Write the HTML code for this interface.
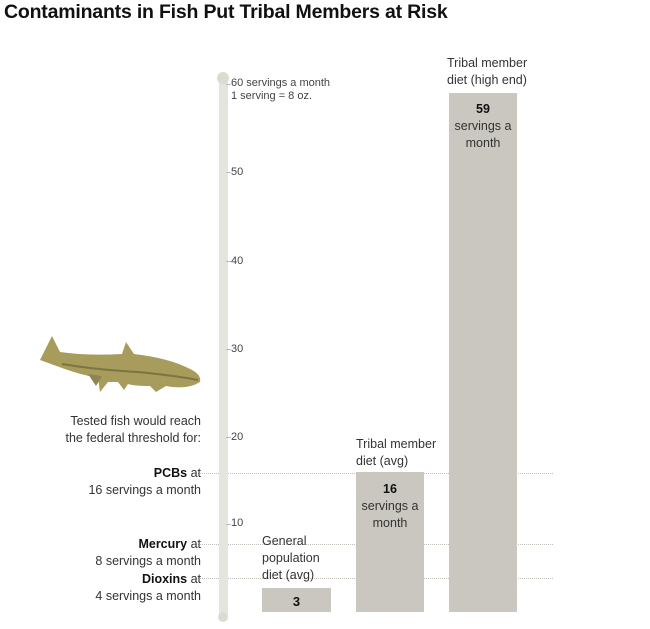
<!DOCTYPE html>
<html><head><meta charset="utf-8"><style>
body{margin:0;width:650px;height:629px;background:#fff;font-family:"Liberation Sans",sans-serif;color:#333;overflow:hidden;position:relative}
.a{position:absolute;white-space:nowrap}
.t{font-size:11px;color:#444}
.l{font-size:12.5px;line-height:17px;color:#333}
.r{text-align:right}
.c{text-align:center}
.bar{position:absolute;background:#c9c7c0}
.dot{position:absolute;left:196px;width:357px;border-top:1px dotted #c2c0b8;height:0}
</style></head><body>
<div class="a" style="left:4px;top:1px;font-size:19.5px;font-weight:bold;color:#111;letter-spacing:-0.2px">Contaminants in Fish Put Tribal Members at Risk</div>

<div class="dot" style="top:473px"></div>
<div class="dot" style="top:544px"></div>
<div class="dot" style="top:578px"></div>

<div class="a" style="left:219px;top:75px;width:9px;height:545px;background:#e6e5dd;border-radius:5px"></div>
<div class="a" style="left:217px;top:72px;width:12px;height:12px;background:#dcdbd3;border-radius:6px"></div>
<div class="a" style="left:218px;top:612px;width:10px;height:10px;background:#dcdbd3;border-radius:5px"></div>

<div class="a t" style="left:231px;top:77px;line-height:13px">60 servings a month<br>1 serving = 8 oz.</div>
<div class="a t" style="left:231px;top:166px">50</div>
<div class="a t" style="left:231px;top:255px">40</div>
<div class="a t" style="left:231px;top:343px">30</div>
<div class="a t" style="left:231px;top:431px">20</div>
<div class="a t" style="left:231px;top:517px">10</div>
<div class="a" style="left:226px;top:84px;width:5px;border-top:1px solid #bbb"></div>
<div class="a" style="left:226px;top:172px;width:5px;border-top:1px solid #bbb"></div>
<div class="a" style="left:226px;top:261px;width:5px;border-top:1px solid #bbb"></div>
<div class="a" style="left:226px;top:349px;width:5px;border-top:1px solid #bbb"></div>
<div class="a" style="left:226px;top:437px;width:5px;border-top:1px solid #bbb"></div>
<div class="a" style="left:226px;top:524px;width:5px;border-top:1px solid #bbb"></div>

<svg class="a" style="left:38px;top:334px" width="168" height="66" viewBox="0 0 168 66">
<path d="M2 26 L14 2 L22 18 Q50 22 84 20 L88 8 L96 20 Q130 24 150 34 Q164 40 162 48 Q150 56 128 52 L118 58 L112 52 Q96 52 90 50 L86 56 L80 48 L70 48 L62 58 L60 44 Q40 40 24 34 Z" fill="#a79c5c"/>
<path d="M24 30 Q60 36 100 38 Q140 42 160 46" stroke="#7d7440" stroke-width="2" fill="none"/>
<path d="M50 40 L58 52 L64 42 Z" fill="#8f8550"/>
</svg>

<div class="a l r" style="right:449px;top:413px">Tested fish would reach<br>the federal threshold for:</div>
<div class="a l r" style="right:449px;top:465px"><b style="color:#111">PCBs</b> at<br>16 servings a month</div>
<div class="a l r" style="right:449px;top:536px"><b style="color:#111">Mercury</b> at<br>8 servings a month</div>
<div class="a l r" style="right:449px;top:571px"><b style="color:#111">Dioxins</b> at<br>4 servings a month</div>

<div class="a l" style="left:262px;top:533px">General<br>population<br>diet (avg)</div>
<div class="bar" style="left:262px;top:588px;width:69px;height:24px"></div>
<div class="a c" style="left:262px;width:69px;top:594px;font-size:13px;font-weight:bold;color:#111">3</div>

<div class="a l" style="left:356px;top:436px">Tribal member<br>diet (avg)</div>
<div class="bar" style="left:356px;top:472px;width:68px;height:140px"></div>
<div class="a l c" style="left:356px;width:68px;top:481px;font-size:12.5px"><b style="color:#111">16</b><br>servings a<br>month</div>

<div class="a l" style="left:447px;top:55px">Tribal member<br>diet (high end)</div>
<div class="bar" style="left:449px;top:93px;width:68px;height:519px"></div>
<div class="a l c" style="left:449px;width:68px;top:101px"><b style="color:#111">59</b><br>servings a<br>month</div>
</body></html>
